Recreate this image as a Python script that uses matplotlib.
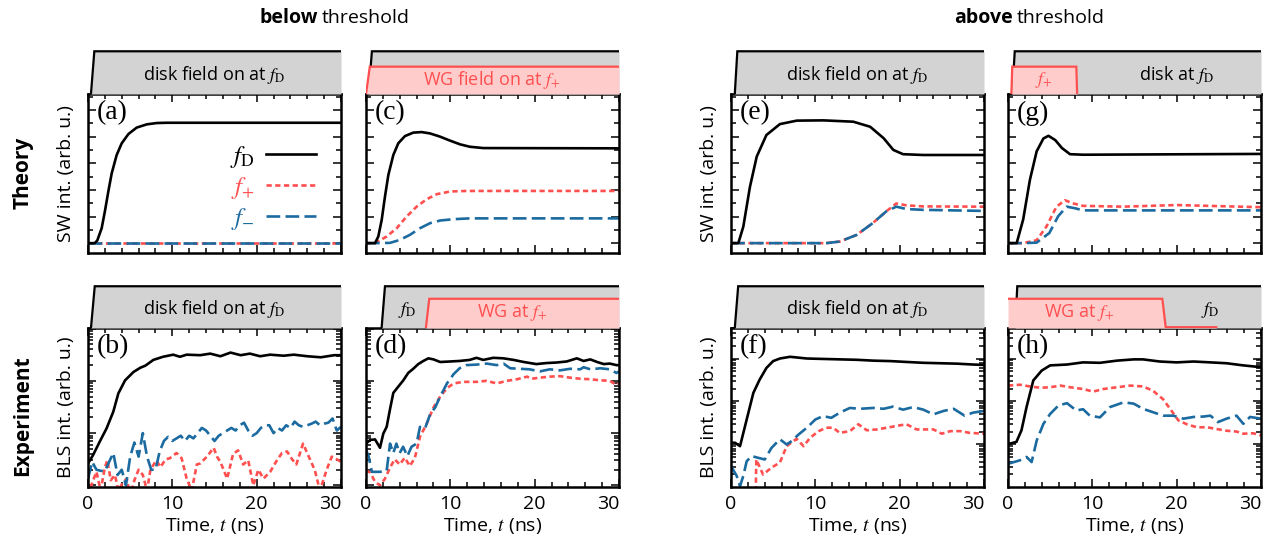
import matplotlib
matplotlib.use("Agg")
import numpy as np
import matplotlib.pyplot as plt
from matplotlib.ticker import MultipleLocator, LogLocator, NullFormatter
from matplotlib.lines import Line2D

plt.rcParams['font.family'] = ['Open Sans', 'DejaVu Sans']
plt.rcParams['mathtext.fontset'] = 'stix'

BLACK = 'black'
RED = '#ff4f4f'
BLUE = '#1b6aa0'
GRAY = '#d3d3d3'
PINK = '#ffcccc'

# ---------------- theory (linear, baseline = 0) ----------------
a_t_fD = [0, 0.8, 1.1, 1.62, 2.0, 2.41, 2.81, 3.4, 4.0, 4.8, 5.78, 6.97, 8.15, 9.3, 30]
a_fD = [0, 0, 0.1, 0.56, 1.19, 1.94, 2.62, 3.31, 3.75, 4.1, 4.34, 4.46, 4.51, 4.52, 4.52]
a_t_pm = [0, 30]
a_fp = [0, 0]
a_fm = [0, 0]

c_t_fD = [0, 1.07, 1.46, 1.86, 2.25, 2.65, 3.24, 3.83, 4.62, 5.61, 6.6, 7.59, 8.77, 9.96, 11.15,
          12.3, 13.9, 30]
c_fD = [0, 0, 0.25, 0.87, 1.75, 2.56, 3.31, 3.75, 4.02, 4.15, 4.17, 4.12, 4.0, 3.85, 3.71,
        3.62, 3.57, 3.56]
c_t_fp = [0, 1.07, 2.45, 3.64, 4.82, 6.0, 7.2, 8.4, 10.0, 11.9, 30]
c_fp = [0, 0, 0.25, 0.56, 1.0, 1.37, 1.65, 1.84, 1.94, 1.96, 1.96]
c_t_fm = [0, 1.07, 2.85, 4.0, 5.2, 6.4, 7.6, 8.8, 10.4, 12.3, 30]
c_fm = [0, 0, 0.01, 0.12, 0.31, 0.56, 0.75, 0.85, 0.90, 0.93, 0.93]

e_t_fD = [0, 0.87, 1.46, 2.25, 3.05, 4.2, 5.8, 7.8, 10.95, 14.5, 16.5, 18.1, 19.25, 20.4, 22.8, 30]
e_fD = [0, 0, 0.62, 2.12, 3.25, 4.06, 4.47, 4.60, 4.61, 4.56, 4.37, 3.94, 3.50, 3.34, 3.31, 3.31]
e_t_pm = [0, 11.3, 12.9, 14.9, 16.8, 18.4, 19.6, 20.8, 22.8, 30]
e_fp = [0, 0, 0.06, 0.31, 0.75, 1.19, 1.49, 1.42, 1.38, 1.37]
e_fm = [0, 0, 0.06, 0.31, 0.75, 1.19, 1.37, 1.28, 1.25, 1.21]

g_t_fD = [0, 1.03, 1.8, 2.6, 3.4, 4.2, 4.8, 5.6, 6.4, 7.35, 8.9, 30]
g_fD = [0, 0, 0.89, 2.38, 3.45, 3.93, 4.03, 3.87, 3.57, 3.34, 3.32, 3.35]
g_t_fp = [0, 1.8, 3.4, 4.55, 5.75, 6.75, 7.75, 8.9, 13.6, 20, 30]
g_fp = [0, 0, 0.11, 0.62, 1.37, 1.61, 1.49, 1.40, 1.37, 1.43, 1.35]
g_t_fm = [0, 1.8, 3.4, 4.9, 5.95, 6.95, 7.95, 8.9, 30]
g_fm = [0, 0, 0.02, 0.38, 1.01, 1.37, 1.31, 1.23, 1.23]

# ---------------- experiment (log10 of BLS intensity) ----------------
b_t_fD = [0, 0.6, 1.4, 2.2, 3.0, 3.6, 4.4, 5.4, 6.2, 6.8, 7.75, 8.9, 10.1, 10.9, 11.7, 13.3, 14.5,
          15.7, 16.9, 18.1, 19.2, 20.4, 21.6, 23.2, 24.4, 26.0, 27.6, 29.2, 30]
b_fD = [0.42, 0.58, 0.84, 1.09, 1.41, 1.76, 2.01, 2.17, 2.25, 2.29, 2.40, 2.46, 2.50, 2.46, 2.50, 2.49,
        2.52, 2.47, 2.54, 2.49, 2.52, 2.47, 2.50, 2.48, 2.50, 2.47, 2.45, 2.49, 2.49]
b_t_fm = [0, 0.5, 1, 1.5, 2, 2.5, 3, 3.5, 4, 4.5, 5, 5.5, 6, 6.5, 7, 7.5, 8, 8.5, 9, 9.5, 10, 10.5,
          11, 11.5, 12, 12.5, 13, 13.5, 14, 14.5, 15, 15.5, 16, 16.5, 17, 17.5, 18, 18.5, 19, 19.5, 20,
          20.5, 21, 21.5, 22, 22.5, 23, 23.5, 24, 24.5, 25, 25.5, 26, 26.5, 27, 27.5, 28, 28.5, 29, 29.5, 30]
b_fm = [0.13, 0.45, 0.30, 0.28, 0.27, 0.45, 0.62, 0.20, 0.30, 0.0, 0.55, 0.82, 0.55, 1.0, 0.55, 0.30,
        0.30, 0.65, 0.85, 0.93, 0.85, 0.90, 0.95, 0.85, 0.95, 0.90, 1.0, 1.1, 1.05, 0.95, 0.85, 0.95,
        1.0, 1.05, 1.1, 1.05, 1.15, 1.2, 1.05, 0.95, 1.0, 1.1, 1.15, 1.15, 1.0, 1.1, 1.05, 1.15, 1.1,
        1.22, 1.15, 1.12, 1.15, 1.18, 1.22, 1.15, 1.18, 1.2, 1.28, 1.05, 1.12]
b_t_fp = [0, 0.5, 1.0, 1.5, 2.0, 2.3, 2.7, 3.2, 3.6, 4.1, 4.6, 5.0, 5.5, 6.0, 6.5, 7.0, 7.4, 8.1, 8.6,
          9.2, 9.7, 10.5, 11.1, 11.7, 12.3, 12.9, 13.3, 14.1, 14.9, 15.3, 15.7, 16.5, 17.2, 17.8, 18.4,
          19.0, 19.6, 20.2, 20.8, 21.6, 22.4, 23.0, 23.6, 24.2, 24.7, 25.5, 26.1, 26.9, 27.5, 28.3,
          28.9, 29.5, 30]
b_fp = [-0.2, 0.05, 0.26, -0.1, 0.35, 0.48, 0.1, 0.2, -0.1, 0.05, 0.13, -0.2, 0.1, 0.3, 0.2, -0.1, 0.3,
        0.48, 0.35, 0.5, 0.52, 0.62, 0.52, 0.13, -0.1, 0.4, 0.42, 0.55, 0.72, 0.55, 0.45, 0.13, 0.6,
        0.67, 0.4, 0.48, 0.0, 0.3, 0.13, 0.26, 0.48, 0.62, 0.65, 0.5, 0.4, 0.8, 0.58, 0.29, -0.1, 0.3,
        0.55, 0.5, 0.45]

d_t_fD = [0, 0.5, 1.07, 1.66, 2.05, 2.45, 2.85, 3.24, 3.83, 4.43, 5.0, 5.6, 6.2, 6.8, 7.4, 8.0, 8.8,
          10.0, 11.1, 12.3, 13.1, 13.9, 15.1, 16.3, 17.5, 18.7, 20.2, 21.4, 22.6, 23.8, 25.0, 25.8,
          26.6, 27.4, 28.2, 28.9, 29.7, 30]
d_fD = [0.80, 0.87, 0.88, 0.72, 0.99, 1.12, 1.46, 1.77, 1.89, 2.01, 2.15, 2.23, 2.32, 2.38, 2.43, 2.41,
        2.36, 2.37, 2.38, 2.40, 2.44, 2.40, 2.44, 2.43, 2.40, 2.36, 2.32, 2.34, 2.35, 2.37, 2.43, 2.38,
        2.41, 2.36, 2.32, 2.33, 2.30, 2.30]
d_t_fm = [0, 0.3, 0.7, 1.66, 2.45, 2.85, 3.24, 3.6, 4.0, 4.4, 4.9, 5.4, 6.0, 6.4, 7.0, 7.6, 8.2, 8.8,
          9.6, 10.4, 11.1, 11.9, 13.1, 14.3, 15.5, 16.3, 17.1, 18.3, 19.4, 20.6, 21.8, 23.0, 24.2, 25.4,
          25.8, 26.6, 27.8, 28.9, 29.7, 30]
d_fm = [0.68, 0.56, 0.26, 0.26, 0.28, 0.80, 0.62, 0.80, 0.62, 0.74, 0.56, 0.74, 0.80, 1.12, 1.09, 1.36,
        1.49, 1.70, 1.95, 2.13, 2.24, 2.30, 2.31, 2.33, 2.30, 2.33, 2.24, 2.23, 2.22, 2.18, 2.22, 2.20,
        2.23, 2.22, 2.26, 2.22, 2.24, 2.22, 2.15, 2.18]
d_t_fp = [0, 0.5, 1.07, 1.66, 2.25, 2.85, 3.4, 4.0, 4.6, 5.2, 5.8, 6.4, 7.2, 8.0, 8.8, 9.6, 10.4, 11.5,
          13.1, 14.3, 15.5, 16.7, 17.9, 19.1, 19.6, 20.6, 21.8, 23.0, 24.2, 25.4, 26.6, 27.8, 28.9,
          29.7, 30]
d_fp = [0.28, 0.25, 0.07, 0.0, 0.13, 0.34, 0.50, 0.40, 0.53, 0.37, 0.53, 0.93, 1.18, 1.49, 1.70, 1.86,
        1.95, 1.98, 1.98, 2.00, 1.95, 2.00, 2.03, 2.08, 2.04, 2.06, 2.08, 2.09, 2.06, 2.04, 2.03, 2.01,
        2.00, 1.92, 1.95]

f_t_fD = [0, 0.47, 1.07, 1.86, 2.65, 3.4, 4.2, 5.0, 5.8, 7.0, 9.0, 10.9, 12.9, 14.9, 16.9, 18.9, 20.8,
          22.8, 24.8, 26.8, 28.7, 30]
f_fD = [0.04, 0.04, -0.04, 0.58, 1.20, 1.51, 1.78, 1.94, 2.00, 2.04, 2.00, 1.99, 1.98, 1.97, 1.95, 1.94,
        1.92, 1.90, 1.89, 1.88, 1.86, 1.85]
f_t_fm = [0, 0.67, 1.07, 1.46, 1.86, 2.45, 3.2, 4.0, 4.8, 5.8, 6.6, 7.2, 8.0, 9.0, 10.0, 10.9, 11.9,
          12.9, 14.1, 15.3, 16.9, 18.1, 19.2, 20.4, 21.6, 22.8, 24.0, 25.2, 26.4, 27.7, 28.7, 30]
f_fm = [-0.50, -0.73, -0.97, -0.73, -0.39, -0.27, -0.31, -0.35, -0.08, 0.12, 0.0, 0.08, 0.23, 0.39,
        0.58, 0.66, 0.62, 0.74, 0.85, 0.83, 0.85, 0.83, 0.88, 0.81, 0.87, 0.81, 0.70, 0.78, 0.83, 0.67,
        0.74, 0.78]
f_t_fp = [2.9, 3.0, 3.8, 4.8, 5.8, 6.6, 7.4, 7.8, 8.6, 9.4, 10.4, 11.3, 12.1, 12.9, 14.1, 15.1, 16.1,
          17.3, 18.5, 19.6, 20.8, 22.0, 23.2, 24.0, 25.0, 26.0, 27.2, 28.3, 30]
f_fp = [-1.5, -0.35, -0.70, -0.54, -0.42, -0.04, 0.08, 0.13, -0.04, 0.16, 0.31, 0.39, 0.39, 0.27, 0.31,
        0.47, 0.33, 0.35, 0.39, 0.43, 0.47, 0.35, 0.35, 0.35, 0.25, 0.31, 0.31, 0.27, 0.25]

h_t_fD = [0, 0.24, 1.0, 1.6, 2.2, 3.0, 4.0, 5.0, 7.0, 8.9, 10.9, 12.9, 14.9, 16.0, 18.0, 20.0, 22.0,
          24.0, 25.9, 27.9, 29.9, 30]
h_fD = [0.02, 0.02, 0.06, 0.33, 0.87, 1.49, 1.72, 1.84, 1.86, 1.91, 1.90, 1.95, 1.98, 1.98, 1.93, 1.91,
        1.93, 1.91, 1.89, 1.84, 1.80, 1.80]
h_t_fp = [0, 1.4, 2.6, 3.8, 5.0, 6.2, 7.4, 8.9, 10.1, 11.3, 12.9, 14.5, 16.0, 17.2, 18.4, 19.4, 20.2,
          21.2, 22.4, 23.6, 24.7, 25.9, 27.1, 27.9, 29.1, 30]
h_fp = [1.37, 1.39, 1.35, 1.32, 1.33, 1.37, 1.33, 1.29, 1.23, 1.29, 1.33, 1.37, 1.35, 1.25, 1.05, 0.78,
        0.56, 0.47, 0.40, 0.40, 0.36, 0.32, 0.30, 0.25, 0.26, 0.21]
h_t_fm = [0, 1.4, 2.2, 2.8, 3.4, 4.2, 5.0, 6.0, 7.0, 8.1, 8.9, 9.7, 10.9, 12.1, 13.7, 14.9, 16.0, 17.2,
          18.4, 19.6, 20.8, 22.0, 23.2, 24.0, 24.9, 25.9, 27.1, 27.9, 28.7, 30]
h_fm = [-0.45, -0.37, -0.29, -0.41, 0.09, 0.48, 0.71, 0.91, 0.96, 0.79, 0.82, 0.67, 0.63, 0.87, 0.98,
        0.95, 0.83, 0.75, 0.67, 0.67, 0.60, 0.64, 0.65, 0.67, 0.52, 0.60, 0.67, 0.48, 0.64, 0.60]

# ---------------- excitation pulses shown above each panel ----------------
a_disk_t, a_disk = [0.35, 0.75, 30], [0, 1, 1]
c_disk_t, c_disk = [0.3, 0.7, 30], [0, 1, 1]
c_wg_t, c_wg = [0.0, 0.45, 30], [0, 0.64, 0.64]
e_disk_t, e_disk = [0.45, 0.75, 30], [0, 1, 1]
g_disk_t, g_disk = [0.5, 0.8, 30], [0, 1, 1]
g_wg_t, g_wg = [0.4, 0.5, 8.1, 8.2], [0, 0.64, 0.64, 0]
b_disk_t, b_disk = [0.35, 0.8, 30], [0, 1, 1]
d_disk_t, d_disk = [1.85, 2.25, 30], [0, 1, 1]
d_wg_t, d_wg = [7.1, 7.5, 30], [0, 0.70, 0.70]
f_disk_t, f_disk = [0.45, 0.85, 30], [0, 1, 1]
h_disk_t, h_disk = [0.85, 1.1, 30], [0, 1, 1]
h_wg_t, h_wg = [0, 18.3, 18.7, 24.7], [0.70, 0.70, 0.02, 0.02]

W, H = 1281, 544
fig = plt.figure(figsize=(W / 100, H / 100), dpi=100)

col_x = [88, 366, 731, 1008]
row_y = [(94, 253), (328, 487)]
head_y = [(50, 94), (285, 328)]
AW = 253


def px_axes(x0, y0, y1, w=AW):
    return fig.add_axes([x0 / W, 1 - y1 / H, w / W, (y1 - y0) / H])


def style(ax, logy=False):
    ax.set_xlim(0, 30)
    ax.xaxis.set_major_locator(MultipleLocator(10))
    ax.xaxis.set_minor_locator(MultipleLocator(2))
    ax.tick_params(which='both', direction='in', top=True, right=True, width=1.1)
    ax.tick_params(which='major', length=6)
    ax.tick_params(which='minor', length=3.5)
    ax.tick_params(axis='y', labelleft=False)
    for s in ax.spines.values():
        s.set_linewidth(1.8)
    if logy:
        ax.set_yscale('log')
        ax.yaxis.set_major_locator(LogLocator(base=10, numticks=10))
        ax.yaxis.set_minor_locator(LogLocator(base=10, subs=np.arange(2, 10), numticks=10))
        ax.yaxis.set_minor_formatter(NullFormatter())
    else:
        ax.yaxis.set_major_locator(MultipleLocator(1))
        ax.yaxis.set_minor_locator(MultipleLocator(0.5))


def curves(ax, tD, vD, tp, vp, tm, vm, log=False):
    conv = (lambda v: 10 ** np.asarray(v)) if log else (lambda v: v)
    ax.plot(tp, conv(vp), color=RED, lw=1.9, dashes=(2.0, 1.3))
    ax.plot(tm, conv(vm), color=BLUE, lw=1.9, dashes=(5.2, 2.0))
    ax.plot(tD, conv(vD), color=BLACK, lw=1.9)


def header(x0, row, pulses, texts):
    y0, y1 = head_y[row]
    hx = px_axes(x0, y0, y1)
    hx.set_xlim(0, 30)
    hx.set_ylim(0, 1.03)
    hx.axis('off')
    for i, (t, lv, kind) in enumerate(pulses):
        fc, ec = (GRAY, BLACK) if kind == 'disk' else (PINK, RED)
        hx.fill_between(t, 0, lv, color=fc, lw=0, zorder=2 + 2 * i)
        hx.plot(t, lv, color=ec, lw=1.6, zorder=3 + 2 * i, solid_joinstyle='miter')
    for (tx, ty, s, c) in texts:
        hx.text(tx, ty, s, color=c, fontsize=13, ha='center', va='center', zorder=20)


def label(ax, s):
    ax.text(0.035, 0.96, s, transform=ax.transAxes, ha='left', va='top',
            fontsize=20, family='Liberation Serif')


fD_s = r'$f_{\mathrm{D}}$'
fp_s = r'$f_{+}$'
fm_s = r'$f_{-}$'

# ---- theory row ----
ax_a = px_axes(col_x[0], *row_y[0])
curves(ax_a, a_t_fD, a_fD, a_t_pm, a_fp, a_t_pm, a_fm)
ax_c = px_axes(col_x[1], *row_y[0])
curves(ax_c, c_t_fD, c_fD, c_t_fp, c_fp, c_t_fm, c_fm)
ax_e = px_axes(col_x[2], *row_y[0])
curves(ax_e, e_t_fD, e_fD, e_t_pm, e_fp, e_t_pm, e_fm)
ax_g = px_axes(col_x[3], *row_y[0])
curves(ax_g, g_t_fD, g_fD, g_t_fp, g_fp, g_t_fm, g_fm)
for ax, s in zip([ax_a, ax_c, ax_e, ax_g], ['(a)', '(c)', '(e)', '(g)']):
    style(ax)
    ax.set_ylim(-0.37, 5.6)
    ax.tick_params(labelbottom=False)
    label(ax, s)

# ---- experiment row ----
ax_b = px_axes(col_x[0], *row_y[1])
curves(ax_b, b_t_fD, b_fD, b_t_fp, b_fp, b_t_fm, b_fm, log=True)
ax_d = px_axes(col_x[1], *row_y[1])
curves(ax_d, d_t_fD, d_fD, d_t_fp, d_fp, d_t_fm, d_fm, log=True)
ax_f = px_axes(col_x[2], *row_y[1])
curves(ax_f, f_t_fD, f_fD, f_t_fp, f_fp, f_t_fm, f_fm, log=True)
ax_h = px_axes(col_x[3], *row_y[1])
curves(ax_h, h_t_fD, h_fD, h_t_fp, h_fp, h_t_fm, h_fm, log=True)
for ax, s in zip([ax_b, ax_d, ax_f, ax_h], ['(b)', '(d)', '(f)', '(h)']):
    style(ax, logy=True)
    label(ax, s)
    ax.set_xticks([0, 10, 20, 30])
    ax.set_xticklabels(['0', '10', '20', '30'], fontsize=14)
    ax.get_xticklabels()[-1].set_ha('right')
    ax.get_xticklabels()[-1].set_x(30.4)
    ax.tick_params(axis='x', pad=6)
    ax.set_xlabel(r'Time, $t$ (ns)', fontsize=14, labelpad=2)
for ax in (ax_b, ax_d):
    ax.set_ylim(10 ** -0.03, 10 ** 3.01)
for ax in (ax_f, ax_h):
    ax.set_ylim(10 ** -0.99, 10 ** 2.71)

for ax in (ax_a, ax_e):
    ax.set_ylabel('SW int. (arb. u.)', fontsize=14, labelpad=6)
for ax in (ax_b, ax_f):
    ax.set_ylabel('BLS int. (arb. u.)', fontsize=14, labelpad=6)

# legend in (a)
handles = [Line2D([], [], color=BLACK, lw=1.9),
           Line2D([], [], color=RED, lw=1.9, dashes=(2.0, 1.3)),
           Line2D([], [], color=BLUE, lw=1.9, dashes=(5.2, 2.0))]
leg = ax_a.legend(handles, [fD_s, fp_s, fm_s], loc='center right', bbox_to_anchor=(0.9, 0.41),
                  frameon=False, markerfirst=False, handlelength=2.0, handletextpad=0.45,
                  labelspacing=0.2, fontsize=18, borderpad=0, borderaxespad=0)
for txt, c in zip(leg.get_texts(), [BLACK, RED, BLUE]):
    txt.set_color(c)

# ---- pulse headers ----
header(col_x[0], 0, [(a_disk_t, a_disk, 'disk')],
       [(15, 0.45, 'disk field on at ' + fD_s, BLACK)])
header(col_x[1], 0, [(c_disk_t, c_disk, 'disk'), (c_wg_t, c_wg, 'wg')],
       [(14.9, 0.33, 'WG field on at ' + fp_s, RED)])
header(col_x[2], 0, [(e_disk_t, e_disk, 'disk')],
       [(15, 0.45, 'disk field on at ' + fD_s, BLACK)])
header(col_x[3], 0, [(g_disk_t, g_disk, 'disk'), (g_wg_t, g_wg, 'wg')],
       [(4.3, 0.32, fp_s, RED), (20.0, 0.45, 'disk at ' + fD_s, BLACK)])
header(col_x[0], 1, [(b_disk_t, b_disk, 'disk')],
       [(15, 0.45, 'disk field on at ' + fD_s, BLACK)])
header(col_x[1], 1, [(d_disk_t, d_disk, 'disk'), (d_wg_t, d_wg, 'wg')],
       [(4.9, 0.42, fD_s, BLACK), (17.3, 0.36, 'WG at ' + fp_s, RED)])
header(col_x[2], 1, [(f_disk_t, f_disk, 'disk')],
       [(15, 0.45, 'disk field on at ' + fD_s, BLACK)])
header(col_x[3], 1, [(h_disk_t, h_disk, 'disk'), (h_wg_t, h_wg, 'wg')],
       [(8.5, 0.37, 'WG at ' + fp_s, RED), (24.0, 0.42, fD_s, BLACK)])

# ---- row / column titles ----
fig.text(23 / W, 1 - 173 / H, 'Theory', rotation=90, fontsize=15, fontweight='bold',
         ha='center', va='center')
fig.text(23 / W, 1 - 416 / H, 'Experiment', rotation=90, fontsize=15, fontweight='bold',
         ha='center', va='center')
fig.text(318 / W, 1 - 18 / H, 'below', fontsize=14, fontweight='bold', ha='right', va='center')
fig.text(322 / W, 1 - 18 / H, 'threshold', fontsize=14, ha='left', va='center')
fig.text(1013 / W, 1 - 18 / H, 'above', fontsize=14, fontweight='bold', ha='right', va='center')
fig.text(1017 / W, 1 - 18 / H, 'threshold', fontsize=14, ha='left', va='center')

fig.savefig('out.png', dpi=100)
